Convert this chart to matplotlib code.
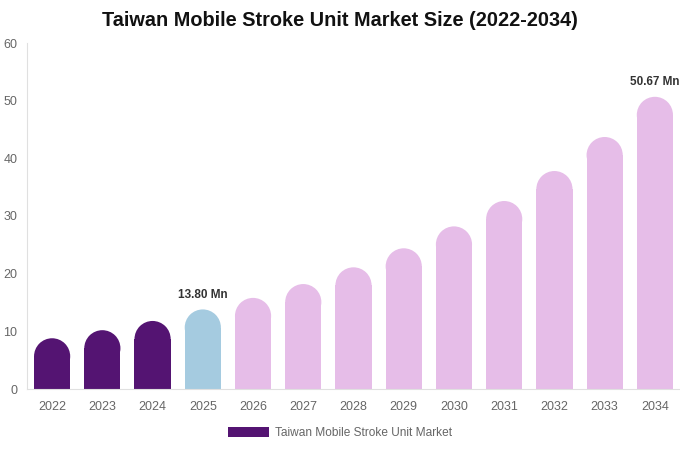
import numpy as np
import matplotlib
matplotlib.use('Agg')
import matplotlib.pyplot as plt
from matplotlib.patches import Rectangle, Ellipse, Patch
from matplotlib import rcParams
rcParams['font.family'] = ['Liberation Sans', 'DejaVu Sans']

years = ['2022', '2023', '2024', '2025', '2026', '2027', '2028',
         '2029', '2030', '2031', '2032', '2033', '2034']
values = [8.8, 10.2, 11.8, 13.80, 15.8, 18.2, 21.1, 24.4, 28.2, 32.6, 37.8, 43.7, 50.67]
bar_colors = ['#541472'] * 3 + ['#a5cbe0'] + ['#e6bde8'] * 9
annotated = {'2025': '13.80 Mn', '2034': '50.67 Mn'}
yticks = [0, 10, 20, 30, 40, 50, 60]

W, H, DPI = 680, 450, 100
fig = plt.figure(figsize=(W / DPI, H / DPI), dpi=DPI)
ax = fig.add_axes([27 / W, 1 - 389 / H, (W - 27) / W, 346 / H])

n = len(years)
ax.set_xlim(-0.5, n - 0.5)
ax.set_ylim(0, 60)

bw = 0.72
# radius of the round top, expressed in data units on each axis
px_per_x = (W - 27) / n
px_per_y = 346 / 60.
r_px = bw * px_per_x / 2
r_y = r_px / px_per_y

for i, (v, c) in enumerate(zip(values, bar_colors)):
    ax.add_patch(Rectangle((i - bw / 2, 0), bw, v - r_y, facecolor=c, edgecolor='none'))
    ax.add_patch(Ellipse((i, v - r_y), bw, 2 * r_y, facecolor=c, edgecolor='none'))
    if years[i] in annotated:
        ax.text(i, v + 1.5, annotated[years[i]], ha='center', va='bottom',
                fontsize=8.5, fontweight='bold', color='#333333')

ax.set_xticks(range(n))
ax.set_xticklabels(years)
ax.set_yticks(yticks)
ax.tick_params(axis='both', length=0, labelsize=9, colors='#666666')
ax.tick_params(axis='x', pad=9)
ax.tick_params(axis='y', pad=7)
for s in ['top', 'right']:
    ax.spines[s].set_visible(False)
for s in ['left', 'bottom']:
    ax.spines[s].set_color('#e0e0e0')
    ax.spines[s].set_linewidth(0.8)

fig.text(340 / W, 1 - 21 / H, 'Taiwan Mobile Stroke Unit Market Size (2022-2034)',
         ha='center', va='center', fontsize=14.3, fontweight='bold', color='#111111')

fig.legend(handles=[Patch(facecolor='#541472', label='Taiwan Mobile Stroke Unit Market')],
           loc='center', bbox_to_anchor=(340 / W, 1 - 433 / H), frameon=False,
           fontsize=8.6, handlelength=3.4, handleheight=1.0, handletextpad=0.5,
           labelcolor='#666666')

fig.savefig('out.png', dpi=DPI)
